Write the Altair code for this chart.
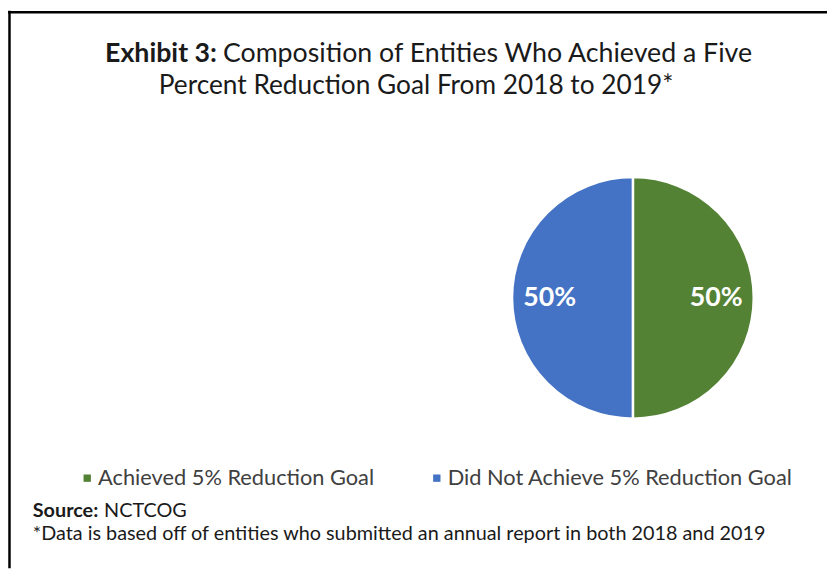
import altair as alt
import pandas as pd

# ---- data ----
categories = ["Achieved 5% Reduction Goal", "Did Not Achieve 5% Reduction Goal"]
values = [50, 50]
pct_labels = ["50%", "50%"]
colors = ["#548235", "#4472C4"]

title_bold = ["Exhibit 3:"]
title_rest = ["Composition of Entities Who Achieved a Five"]
title_line2 = ["Percent Reduction Goal From 2018 to 2019*"]
source_bold = ["Source:"]
source_rest = ["NCTCOG"]
footnote = ["*Data is based off of entities who submitted an annual report in both 2018 and 2019"]

FONT = "Lato"
W, H = 827, 563
CX, CY, R = 631, 290, 122

df = pd.DataFrame({"category": categories, "value": values,
                   "label": pct_labels, "idx": list(range(len(categories)))})

base = alt.Chart(df).encode(
    theta=alt.Theta("value:Q", stack=True),
    order=alt.Order("idx:Q"),
)

pie = base.mark_arc(radius=R, stroke="white", strokeWidth=2.5).encode(
    x=alt.value(CX), y=alt.value(CY),
    color=alt.Color(
        "category:N",
        scale=alt.Scale(domain=categories, range=colors),
        legend=alt.Legend(
            title=None, orient="none", direction="horizontal",
            legendX=69, legendY=461,
            symbolType="square", symbolSize=55, symbolStrokeWidth=0,
            labelFont=FONT, labelFontSize=22, labelColor="#404040",
            labelLimit=500, columnPadding=52, labelOffset=0,
        ),
    ),
)

pct = base.mark_text(radius=84, font=FONT, fontSize=27, fontWeight="bold",
                     fill="white").encode(
    x=alt.value(CX), y=alt.value(CY), text="label:N")


def txt(lst, x, y, size, weight="normal", align="left"):
    d = pd.DataFrame({"t": lst})
    return alt.Chart(d).mark_text(
        font=FONT, fontSize=size, fontWeight=weight, align=align,
        baseline="middle", color="#1a1a1a"
    ).encode(text="t:N", x=alt.value(x), y=alt.value(y))


t1 = txt(title_bold, 211, 44, 27, "bold", "right")
t2 = txt(title_rest, 217, 44, 27)
t3 = txt(title_line2, 412, 76, 26.5, align="center")
s1 = txt(source_bold, 25, 505, 20, "bold", "left")
s2 = txt(source_rest, 97, 505, 20)
fn = txt(footnote, 25, 528, 20)

border_df = pd.DataFrame({"k": [0]})
left_border = alt.Chart(border_df).mark_rule(color="black", strokeWidth=2.5).encode(
    x=alt.value(1.5), y=alt.value(0), y2=alt.value(H))
top_border = alt.Chart(border_df).mark_rule(color="black", strokeWidth=2.5).encode(
    y=alt.value(1.5), x=alt.value(0), x2=alt.value(W))

chart = alt.layer(pie, pct, t1, t2, t3, s1, s2, fn, left_border, top_border).properties(
    width=W, height=H, padding=0, autosize=alt.AutoSizeParams(type="none"),
    background="white",
).configure_view(stroke=None)

chart.save("out.html", embed_options={"renderer": "svg", "actions": False})
